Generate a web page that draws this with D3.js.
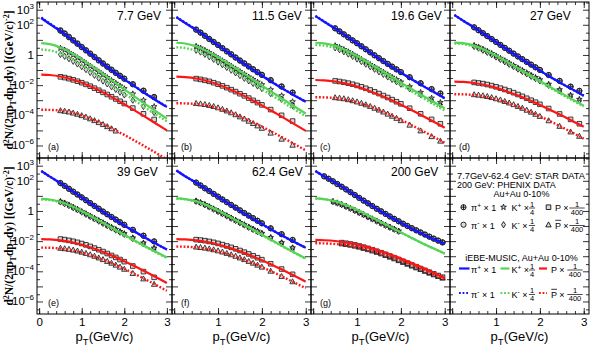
<!DOCTYPE html>
<html><head><meta charset="utf-8">
<script src="https://cdn.jsdelivr.net/npm/d3@7"></script>
<style>
body{margin:0;background:#fff}
svg{display:block}
text{font-family:"Liberation Sans",Arial,sans-serif;fill:#000}
</style>
</head><body>
<svg id="c" width="591" height="353"></svg>
<script>
// ---------------- DATA (log10 of d2N/(2pi pT dpT dy)) ----------------
const energies = ["7.7 GeV","11.5 GeV","19.6 GeV","27 GeV","39 GeV","62.4 GeV","200 GeV"];
const panelTags = ["(a)","(b)","(c)","(d)","(e)","(f)","(g)"];
const xTickValues = [0,1,2,3];
const yTickExponents = [3,2,0,-2,-4,-6];

const modelPt = [0.05,0.25,0.5,0.75,1.0,1.25,1.5,1.75,2.0,2.25,2.5,2.75,3.0];
const starPt = [0.5,0.6,0.7,0.8,0.9,1.0,1.1,1.2,1.3,1.4,1.5,1.6,1.7,1.8,1.9,2.0,2.2,2.45,2.7,2.9];
const phenixPt = [0.25,0.35,0.45,0.55,0.65,0.75,0.85,0.95,1.05,1.15,1.25,1.35,1.45,1.55,1.65,1.75,1.85,1.95,2.05,2.15,2.25,2.35,2.45,2.55,2.65,2.75,2.85,2.95];

// iEBE-MUSIC model curves (rows: 7.7, 11.5, 19.6, 27, 39, 62.4, 200 GeV)
const piPlusModel = [
 [2.45,2.05,1.58,1.05,0.5,-0.05,-0.6,-1.12,-1.62,-2.1,-2.57,-3.02,-3.45],
 [2.5,2.12,1.66,1.16,0.64,0.12,-0.4,-0.9,-1.38,-1.84,-2.28,-2.7,-3.1],
 [2.58,2.2,1.75,1.26,0.76,0.26,-0.24,-0.72,-1.18,-1.62,-2.05,-2.46,-2.88],
 [2.65,2.27,1.82,1.34,0.85,0.36,-0.12,-0.59,-1.04,-1.48,-1.9,-2.3,-2.7],
 [2.65,2.28,1.84,1.37,0.89,0.41,-0.06,-0.52,-0.96,-1.38,-1.79,-2.18,-2.56],
 [2.68,2.3,1.87,1.41,0.94,0.47,0.01,-0.44,-0.87,-1.29,-1.69,-2.07,-2.44],
 [2.65,2.29,1.88,1.43,0.96,0.5,0.05,-0.38,-0.79,-1.18,-1.55,-1.88,-2.18]];
const piMinusModel = [
 [2.48,2.08,1.61,1.08,0.53,-0.02,-0.57,-1.09,-1.6,-2.08,-2.55,-3.0,-3.43],
 [2.52,2.14,1.68,1.18,0.66,0.14,-0.38,-0.88,-1.36,-1.82,-2.27,-2.69,-3.09],
 [2.59,2.21,1.76,1.27,0.77,0.27,-0.23,-0.71,-1.17,-1.61,-2.04,-2.45,-2.87],
 [2.65,2.27,1.82,1.34,0.85,0.36,-0.12,-0.59,-1.04,-1.48,-1.9,-2.3,-2.7],
 [2.65,2.28,1.84,1.37,0.89,0.41,-0.06,-0.52,-0.96,-1.38,-1.79,-2.18,-2.56],
 [2.68,2.3,1.87,1.41,0.94,0.47,0.01,-0.44,-0.87,-1.29,-1.69,-2.07,-2.44],
 [2.65,2.29,1.88,1.43,0.96,0.5,0.05,-0.38,-0.79,-1.18,-1.55,-1.88,-2.18]];
const kPlusModel = [
 [0.78,0.72,0.5,0.15,-0.28,-0.76,-1.26,-1.77,-2.28,-2.78,-3.27,-3.75,-4.22],
 [0.81,0.76,0.57,0.25,-0.15,-0.6,-1.07,-1.55,-2.03,-2.5,-2.97,-3.43,-3.88],
 [0.81,0.77,0.6,0.3,-0.07,-0.49,-0.93,-1.38,-1.83,-2.27,-2.7,-3.12,-3.54],
 [0.82,0.78,0.62,0.33,-0.03,-0.44,-0.87,-1.3,-1.73,-2.15,-2.56,-2.96,-3.36],
 [0.8,0.76,0.61,0.34,0.0,-0.38,-0.78,-1.18,-1.58,-1.97,-2.35,-2.72,-3.08],
 [0.83,0.79,0.64,0.37,0.03,-0.36,-0.76,-1.17,-1.58,-1.98,-2.38,-2.77,-3.15],
 [0.83,0.79,0.65,0.4,0.08,-0.28,-0.66,-1.04,-1.42,-1.79,-2.15,-2.49,-2.82]];
const kMinusModel = [
 [0.36,0.3,0.1,-0.24,-0.66,-1.12,-1.6,-2.09,-2.57,-3.04,-3.5,-3.96,-4.4],
 [0.51,0.46,0.28,-0.03,-0.42,-0.86,-1.32,-1.79,-2.26,-2.72,-3.17,-3.62,-4.06],
 [0.66,0.62,0.45,0.15,-0.22,-0.64,-1.08,-1.53,-1.98,-2.42,-2.85,-3.27,-3.68],
 [0.76,0.72,0.56,0.27,-0.09,-0.5,-0.93,-1.36,-1.79,-2.21,-2.62,-3.02,-3.42],
 [0.76,0.72,0.57,0.3,-0.04,-0.42,-0.82,-1.22,-1.62,-2.01,-2.39,-2.76,-3.12],
 [0.81,0.77,0.62,0.35,0.01,-0.38,-0.78,-1.19,-1.6,-2.0,-2.4,-2.79,-3.17],
 [0.82,0.78,0.64,0.39,0.07,-0.29,-0.67,-1.05,-1.43,-1.8,-2.16,-2.5,-2.83]];
const pModel = [
 [-1.3,-1.33,-1.43,-1.6,-1.84,-2.14,-2.48,-2.86,-3.27,-3.69,-4.12,-4.56,-5.0],
 [-1.44,-1.47,-1.56,-1.73,-1.96,-2.25,-2.58,-2.95,-3.34,-3.75,-4.17,-4.6,-5.03],
 [-1.66,-1.68,-1.76,-1.9,-2.1,-2.35,-2.64,-2.96,-3.3,-3.66,-4.04,-4.43,-4.83],
 [-1.77,-1.79,-1.86,-1.99,-2.18,-2.42,-2.69,-2.99,-3.31,-3.66,-4.02,-4.39,-4.76],
 [-1.87,-1.89,-1.95,-2.07,-2.24,-2.46,-2.72,-3.01,-3.33,-3.67,-4.03,-4.4,-4.78],
 [-1.87,-1.89,-1.95,-2.06,-2.22,-2.43,-2.68,-2.96,-3.27,-3.6,-3.95,-4.31,-4.68],
 [-1.92,-1.94,-1.99,-2.08,-2.22,-2.4,-2.62,-2.87,-3.15,-3.45,-3.77,-4.1,-4.45]];
const pbarModel = [
 [-3.63,-3.64,-3.68,-3.8,-4.0,-4.27,-4.58,-4.93,-5.3,-5.69,-6.09,-6.5,-6.92],
 [-3.2,-3.21,-3.25,-3.36,-3.54,-3.78,-4.07,-4.4,-4.75,-5.13,-5.52,-5.92,-6.33],
 [-2.8,-2.81,-2.86,-2.97,-3.14,-3.37,-3.65,-3.96,-4.3,-4.66,-5.04,-5.43,-5.83],
 [-2.6,-2.61,-2.66,-2.77,-2.94,-3.16,-3.43,-3.73,-4.06,-4.41,-4.78,-5.16,-5.55],
 [-2.43,-2.44,-2.49,-2.6,-2.76,-2.97,-3.23,-3.52,-3.84,-4.18,-4.54,-4.91,-5.29],
 [-2.36,-2.37,-2.42,-2.52,-2.68,-2.88,-3.13,-3.41,-3.72,-4.05,-4.4,-4.76,-5.12],
 [-2.14,-2.15,-2.19,-2.27,-2.4,-2.57,-2.78,-3.02,-3.29,-3.58,-3.89,-4.2,-4.52]];

// Measured data (rows 0-5 on starPt, row 6 on phenixPt)
const piPlusData = [
 [1.6,1.4,1.17,0.95,0.73,0.51,0.29,0.07,-0.15,-0.37,-0.58,-0.79,-1.0,-1.2,-1.4,-1.58,-1.95,-2.38,-2.8,null],
 [1.67,1.47,1.26,1.05,0.85,0.65,0.44,0.23,0.03,-0.18,-0.38,-0.57,-0.77,-0.96,-1.15,-1.33,-1.68,-2.1,-2.5,null],
 [1.76,1.56,1.36,1.16,0.96,0.77,0.57,0.37,0.17,-0.03,-0.22,-0.41,-0.6,-0.78,-0.96,-1.14,-1.48,-1.88,-2.27,-2.56],
 [1.83,1.64,1.44,1.25,1.05,0.86,0.66,0.47,0.28,0.09,-0.1,-0.28,-0.46,-0.64,-0.82,-0.99,-1.33,-1.72,-2.1,-2.38],
 [1.85,1.66,1.47,1.28,1.09,0.9,0.71,0.52,0.33,0.15,-0.04,-0.22,-0.4,-0.57,-0.75,-0.92,-1.25,-1.64,-2.02,null],
 [1.88,1.69,1.5,1.32,1.13,0.95,0.76,0.58,0.4,0.22,0.04,-0.14,-0.31,-0.48,-0.65,-0.82,-1.15,-1.54,-1.92,null],
 [2.3,2.14,1.97,1.79,1.61,1.43,1.25,1.06,0.87,0.69,0.51,0.33,0.15,-0.02,-0.19,-0.36,-0.52,-0.68,-0.84,-0.99,-1.14,-1.28,-1.42,-1.56,-1.7,-1.83,-1.96,-2.08]];
const piMinusData = [
 [1.64,1.44,1.21,0.99,0.77,0.54,0.32,0.1,-0.12,-0.34,-0.55,-0.76,-0.97,-1.17,-1.37,-1.56,-1.93,-2.36,-2.78,null],
 [1.69,1.49,1.28,1.07,0.87,0.67,0.46,0.25,0.05,-0.16,-0.36,-0.55,-0.75,-0.94,-1.13,-1.31,-1.66,-2.08,-2.49,null],
 [1.77,1.57,1.37,1.17,0.97,0.78,0.58,0.38,0.18,-0.02,-0.21,-0.4,-0.59,-0.77,-0.95,-1.13,-1.47,-1.87,-2.26,-2.55],
 [1.83,1.64,1.45,1.25,1.06,0.86,0.67,0.47,0.28,0.09,-0.1,-0.28,-0.46,-0.64,-0.82,-0.99,-1.33,-1.72,-2.1,-2.38],
 [1.85,1.66,1.47,1.28,1.09,0.9,0.71,0.52,0.33,0.15,-0.04,-0.22,-0.4,-0.57,-0.75,-0.92,-1.25,-1.64,-2.02,null],
 [1.88,1.69,1.5,1.32,1.13,0.95,0.76,0.58,0.4,0.22,0.04,-0.14,-0.31,-0.48,-0.65,-0.82,-1.15,-1.54,-1.92,null],
 [2.29,2.13,1.96,1.78,1.6,1.42,1.24,1.05,0.86,0.68,0.5,0.32,0.14,-0.03,-0.2,-0.37,-0.53,-0.69,-0.85,-1.0,-1.15,-1.29,-1.43,-1.57,-1.71,-1.84,-1.97,-2.09]];
const kPlusData = [
 [0.45,0.33,0.17,0.0,-0.18,-0.36,-0.55,-0.74,-0.93,-1.12,-1.31,-1.5,-1.69,-1.87,-2.05,-2.23,-2.58,-3.0,-3.42,null],
 [0.58,0.46,0.31,0.15,-0.02,-0.2,-0.38,-0.56,-0.74,-0.92,-1.1,-1.28,-1.46,-1.63,-1.8,-1.97,-2.3,-2.7,-3.1,null],
 [0.62,0.5,0.36,0.21,0.05,-0.12,-0.29,-0.46,-0.63,-0.8,-0.97,-1.14,-1.31,-1.47,-1.63,-1.79,-2.1,-2.48,-2.86,-3.15],
 [0.64,0.53,0.39,0.25,0.1,-0.06,-0.22,-0.38,-0.54,-0.7,-0.86,-1.02,-1.18,-1.34,-1.49,-1.64,-1.94,-2.3,-2.66,-2.94],
 [0.64,0.53,0.4,0.26,0.12,-0.03,-0.18,-0.33,-0.48,-0.63,-0.78,-0.93,-1.08,-1.22,-1.36,-1.5,-1.78,-2.12,-2.46,null],
 [0.67,0.56,0.43,0.29,0.14,-0.01,-0.16,-0.31,-0.46,-0.61,-0.76,-0.91,-1.06,-1.2,-1.34,-1.48,-1.76,-2.1,-2.44,null],
 [null,null,0.63,0.54,0.43,0.31,0.18,0.04,-0.1,-0.24,-0.38,-0.52,-0.66,-0.8,-0.94,-1.07,-1.2,-1.33,null,null,null,null,null,null,null,null,null,null]];
const kMinusData = [
 [0.03,-0.09,-0.25,-0.42,-0.6,-0.78,-0.97,-1.16,-1.35,-1.54,-1.73,-1.92,-2.11,-2.29,-2.47,-2.65,-3.0,-3.42,-3.82,null],
 [0.31,0.19,0.04,-0.12,-0.29,-0.47,-0.65,-0.83,-1.01,-1.19,-1.37,-1.55,-1.72,-1.89,-2.06,-2.23,-2.56,-2.95,-3.35,null],
 [0.47,0.35,0.21,0.06,-0.1,-0.27,-0.44,-0.61,-0.78,-0.95,-1.12,-1.29,-1.46,-1.62,-1.78,-1.94,-2.25,-2.63,-3.01,-3.3],
 [0.56,0.45,0.31,0.17,0.02,-0.14,-0.3,-0.46,-0.62,-0.78,-0.94,-1.1,-1.26,-1.42,-1.57,-1.72,-2.02,-2.38,-2.74,-3.02],
 [0.59,0.48,0.35,0.21,0.07,-0.08,-0.23,-0.38,-0.53,-0.68,-0.83,-0.98,-1.13,-1.27,-1.41,-1.55,-1.83,-2.17,-2.51,null],
 [0.64,0.53,0.4,0.26,0.11,-0.04,-0.19,-0.34,-0.49,-0.64,-0.79,-0.94,-1.09,-1.23,-1.37,-1.51,-1.79,-2.13,-2.47,null],
 [null,null,0.61,0.52,0.41,0.29,0.16,0.02,-0.12,-0.26,-0.4,-0.54,-0.68,-0.82,-0.96,-1.09,-1.22,-1.35,null,null,null,null,null,null,null,null,null,null]];
const pData = [
 [-1.45,-1.5,-1.57,-1.65,-1.74,-1.84,-1.95,-2.07,-2.2,-2.34,-2.48,-2.62,-2.77,-2.92,-3.07,-3.22,-3.52,-3.9,-4.28,null],
 [-1.57,-1.62,-1.68,-1.75,-1.84,-1.94,-2.05,-2.17,-2.3,-2.43,-2.57,-2.71,-2.86,-3.01,-3.16,-3.31,-3.62,-4.0,-4.38,null],
 [-1.72,-1.76,-1.81,-1.87,-1.94,-2.02,-2.11,-2.21,-2.32,-2.44,-2.56,-2.69,-2.82,-2.96,-3.1,-3.24,-3.53,-3.9,-4.27,-4.56],
 [-1.82,-1.86,-1.9,-1.96,-2.03,-2.11,-2.2,-2.29,-2.39,-2.5,-2.62,-2.74,-2.87,-3.0,-3.13,-3.27,-3.55,-3.91,-4.27,-4.56],
 [-1.86,-1.9,-1.95,-2.01,-2.08,-2.16,-2.25,-2.35,-2.46,-2.57,-2.69,-2.82,-2.95,-3.08,-3.22,-3.36,-3.65,-4.02,-4.4,null],
 [-1.9,-1.93,-1.97,-2.02,-2.08,-2.15,-2.23,-2.32,-2.41,-2.51,-2.62,-2.73,-2.85,-2.97,-3.1,-3.23,-3.5,-3.85,-4.2,null],
 [null,null,null,null,-2.1,-2.14,-2.19,-2.25,-2.32,-2.4,-2.48,-2.57,-2.67,-2.77,-2.88,-2.99,-3.1,-3.22,-3.34,-3.46,-3.58,-3.7,-3.82,-3.94,-4.06,-4.17,-4.28,-4.39]];
const pbarData = [
 [-3.68,-3.72,-3.77,-3.84,-3.92,-4.01,-4.11,-4.22,-4.34,-4.47,-4.6,-4.74,-4.88,-5.03,null,null,null,null,null,null],
 [-3.2,-3.23,-3.27,-3.33,-3.4,-3.49,-3.59,-3.7,-3.82,-3.95,-4.09,-4.23,-4.38,-4.53,-4.69,-4.85,-5.17,-5.57,-5.97,null],
 [-2.82,-2.85,-2.89,-2.95,-3.02,-3.1,-3.19,-3.29,-3.4,-3.52,-3.64,-3.77,-3.91,-4.05,-4.19,-4.34,-4.64,-5.02,-5.4,-5.7],
 [-2.62,-2.65,-2.69,-2.74,-2.81,-2.89,-2.97,-3.07,-3.17,-3.28,-3.4,-3.52,-3.65,-3.78,-3.92,-4.06,-4.35,-4.72,-5.09,-5.38],
 [-2.46,-2.49,-2.53,-2.58,-2.64,-2.72,-2.8,-2.89,-2.99,-3.1,-3.21,-3.33,-3.45,-3.58,-3.71,-3.85,-4.13,-4.49,-4.85,null],
 [-2.38,-2.41,-2.45,-2.5,-2.56,-2.63,-2.71,-2.8,-2.89,-2.99,-3.1,-3.21,-3.33,-3.45,-3.58,-3.71,-3.98,-4.33,-4.68,null],
 [null,null,null,null,-2.17,-2.21,-2.26,-2.32,-2.39,-2.47,-2.55,-2.64,-2.73,-2.83,-2.94,-3.05,-3.16,-3.28,-3.4,-3.52,-3.64,-3.76,-3.87,-3.99,-4.11,-4.22,-4.33,-4.44]];

// ---------------- LAYOUT ----------------
const colX = [37,172,311,450,589];
const rowY = [2,158,314];
const xDomain = [-0.05,3.12];
const yDomain = [Math.pow(10,-6.83), Math.pow(10,3.51)];
const COL = {blue:"#1414ff", green:"#55d455", red:"#ff1414"};

const svg = d3.select("#c");
svg.append("rect").attr("width",591).attr("height",353).attr("fill","#fff");

const markerPath = {
  piPlus: "M-2.6,0A2.6,2.6 0 1,0 2.6,0A2.6,2.6 0 1,0 -2.6,0M-2.6,0H2.6M0,-2.6V2.6",
  piMinus: "M-2.6,0A2.6,2.6 0 1,0 2.6,0A2.6,2.6 0 1,0 -2.6,0",
  kPlus: (function(){let p=[];for(let i=0;i<10;i++){const r=i%2?1.2:3.0;const a=-Math.PI/2+i*Math.PI/5;p.push([r*Math.cos(a),r*Math.sin(a)]);}return "M"+p.map(d=>d[0].toFixed(2)+","+d[1].toFixed(2)).join("L")+"Z";})(),
  kMinus: "M0,-3.1L2.0,0L0,3.1L-2.0,0Z",
  p: "M-2.3,-2.3H2.3V2.3H-2.3Z",
  pbar: "M0,-2.8L2.7,2.2H-2.7Z"
};

function drawPanel(i){
  const c = i%4, r = Math.floor(i/4);
  const x = d3.scaleLinear().domain(xDomain).range([colX[c], colX[c+1]]);
  const y = d3.scaleLog().domain(yDomain).range([rowY[r+1], rowY[r]]);
  const g = svg.append("g");
  const clipId = "clip"+i;
  svg.append("clipPath").attr("id",clipId).append("rect")
    .attr("x",colX[c]).attr("y",rowY[r]).attr("width",colX[c+1]-colX[c]).attr("height",rowY[r+1]-rowY[r]);

  const xMinor = d3.range(0,3.01,0.2);
  g.append("g").attr("transform",`translate(0,${rowY[r+1]})`)
    .call(d3.axisBottom(x).tickValues(xMinor).tickSizeInner(-3).tickSizeOuter(0).tickFormat(""));
  const xAx = g.append("g").attr("transform",`translate(0,${rowY[r+1]})`)
    .call(d3.axisBottom(x).tickValues(xTickValues).tickSizeInner(-6).tickSizeOuter(0).tickPadding(4)
      .tickFormat(d=> (r===1 && (c===0 || d!==0)) ? d : ""));
  xAx.selectAll("text").attr("font-size",11.5).attr("font-family","Liberation Sans, Arial, sans-serif");
  g.append("g").attr("transform",`translate(0,${rowY[r]})`)
    .call(d3.axisTop(x).tickValues(xMinor).tickSizeInner(-3).tickSizeOuter(0).tickFormat(""));
  g.append("g").attr("transform",`translate(0,${rowY[r]})`)
    .call(d3.axisTop(x).tickValues(xTickValues).tickSizeInner(-6).tickSizeOuter(0).tickFormat(""));

  const yMajor = d3.range(-6,4).map(e=>Math.pow(10,e));
  const yMinor = d3.range(-7,4).map(e=>3*Math.pow(10,e)).filter(v=>v>yDomain[0] && v<yDomain[1]);
  const yLab = yTickExponents.map(e=>Math.pow(10,e));
  g.append("g").attr("transform",`translate(${colX[c]},0)`)
    .call(d3.axisLeft(y).tickValues(yMajor).tickSizeInner(-6).tickSizeOuter(0).tickFormat(""));
  g.append("g").attr("transform",`translate(${colX[c]},0)`)
    .call(d3.axisLeft(y).tickValues(yMinor).tickSizeInner(-3).tickSizeOuter(0).tickFormat(""));
  g.append("g").attr("transform",`translate(${colX[c+1]},0)`)
    .call(d3.axisRight(y).tickValues(yMajor).tickSizeInner(-6).tickSizeOuter(0).tickFormat(""));
  g.append("g").attr("transform",`translate(${colX[c+1]},0)`)
    .call(d3.axisRight(y).tickValues(yMinor).tickSizeInner(-3).tickSizeOuter(0).tickFormat(""));
  g.selectAll(".domain").remove();
  g.selectAll(".tick line").attr("stroke","#000").attr("stroke-width",0.8);

  if(c===0){
    yLab.forEach((v,k)=>{
      const e = yTickExponents[k];
      const t = g.append("text").attr("x",colX[0]-3).attr("y",y(v)+4).attr("text-anchor","end").attr("font-size",11.5);
      if(e===0){ t.text("1"); }
      else { t.append("tspan").text("10"); t.append("tspan").attr("dy",-5).attr("font-size",8).text(String(e).replace("-","\u2212")); }
    });
  }

  g.append("rect").attr("x",colX[c]).attr("y",rowY[r]).attr("width",colX[c+1]-colX[c]).attr("height",rowY[r+1]-rowY[r])
    .attr("fill","none").attr("stroke","#000").attr("stroke-width",1);

  if(i>6) return;

  const plot = g.append("g").attr("clip-path",`url(#${clipId})`);
  const pts = i===6 ? phenixPt : starPt;
  const series = [
    ["piMinus", piMinusData], ["piPlus", piPlusData], ["kMinus", kMinusData], ["kPlus", kPlusData],
    ["pbar", pbarData], ["p", pData]];
  series.forEach(([name,arr])=>{
    const vals = arr[i].map((v,k)=>[pts[k],v]).filter(d=>d[1]!==null);
    plot.selectAll(null).data(vals).enter().append("path")
      .attr("d",markerPath[name])
      .attr("transform",d=>`translate(${x(d[0])},${y(Math.pow(10,d[1]))})`)
      .attr("fill","rgba(150,150,150,0.35)").attr("stroke","#111").attr("stroke-width",0.8);
  });

  const line = d3.line().x(d=>x(d[0])).y(d=>y(Math.pow(10,d[1]))).curve(d3.curveMonotoneX);
  const curves = [
    [piPlusModel, COL.blue, false],[kPlusModel, COL.green, false],[pModel, COL.red, false],
    [piMinusModel, COL.blue, true],[kMinusModel, COL.green, true],[pbarModel, COL.red, true]];
  curves.forEach(([arr,col,dot])=>{
    plot.append("path").datum(arr[i].map((v,k)=>[modelPt[k],v]))
      .attr("d",line).attr("fill","none").attr("stroke",col)
      .attr("stroke-width",dot?2.4:2.2).attr("stroke-dasharray",dot?"1.8,1.8":null);
  });

  g.append("text").attr("x",colX[c]+80).attr("y",rowY[r]+18).attr("font-size",12).text(energies[i]);
  g.append("text").attr("x",colX[c]+ (c===0?11:9)).attr("y",rowY[r+1]-8).attr("font-size",9).text(panelTags[i]);
}
for(let i=0;i<8;i++) drawPanel(i);

// axis titles
[0,1,2,3].forEach(c=>{
  const t = svg.append("text").attr("x",(colX[c]+colX[c+1])/2).attr("y",341).attr("text-anchor","middle").attr("font-size",13);
  t.append("tspan").text("p");
  t.append("tspan").attr("dy",4).attr("font-size",9.5).text("T");
  t.append("tspan").attr("dy",-4).text("(GeV/c)");
});
[0,1].forEach(r=>{
  const cy = (rowY[r]+rowY[r+1])/2;
  const t = svg.append("text").attr("transform",`translate(13,${cy}) rotate(-90)`)
    .attr("text-anchor","middle").attr("font-size",11.5).attr("font-weight","bold")
    .style("font-family","Liberation Serif, Times New Roman, serif");
  t.append("tspan").text("d");
  t.append("tspan").attr("dy",-4).attr("font-size",8).text("2");
  t.append("tspan").attr("dy",4).text("N/(2\u03C0p");
  t.append("tspan").attr("dy",3).attr("font-size",8).text("T");
  t.append("tspan").attr("dy",-3).text("dp");
  t.append("tspan").attr("dy",3).attr("font-size",8).text("T");
  t.append("tspan").attr("dy",-3).text("dy) [(GeV/c)");
  t.append("tspan").attr("dy",-4).attr("font-size",8).text("-2");
  t.append("tspan").attr("dy",4).text("]");
});

// ---------------- LEGEND ----------------
const L = svg.append("g");
const fs = 9;
L.append("text").attr("x",457).attr("y",178.5).attr("font-size",fs).attr("textLength",128).attr("lengthAdjust","spacingAndGlyphs").text("7.7GeV-62.4 GeV: STAR DATA");
L.append("text").attr("x",457).attr("y",188).attr("font-size",fs).text("200 GeV: PHENIX DATA");
L.append("text").attr("x",521.5).attr("y",197).attr("font-size",fs).attr("text-anchor","middle").text("Au+Au 0-10%");
L.append("text").attr("x",521.5).attr("y",260.5).attr("font-size",fs).attr("text-anchor","middle").text("iEBE-MUSIC, Au+Au 0-10%");

function frac(xc, yc, num, den){
  L.append("text").attr("x",xc).attr("y",yc-1.1).attr("text-anchor","middle").attr("font-size",7.5).text(num);
  const hw = den.length*2.3+0.8;
  L.append("line").attr("x1",xc-hw).attr("x2",xc+hw).attr("y1",yc).attr("y2",yc).attr("stroke","#000").attr("stroke-width",0.7);
  L.append("text").attr("x",xc).attr("y",yc+6.8).attr("text-anchor","middle").attr("font-size",7.5).text(den);
}
function label(x0, yc, base, sup, mult, bar){
  const t = L.append("text").attr("x",x0).attr("y",yc+3.2).attr("font-size",fs);
  t.append("tspan").text(base);
  if(sup){ t.append("tspan").attr("dy",-3.5).attr("font-size",6.5).text(sup); t.append("tspan").attr("dy",3.5).text(" \u00D7"+(mult?" "+mult:"")); }
  else t.append("tspan").text(" \u00D7"+(mult?" "+mult:""));
  if(bar) L.append("line").attr("x1",x0+0.3).attr("x2",x0+6).attr("y1",yc-5.2).attr("y2",yc-5.2).attr("stroke","#000").attr("stroke-width",0.8);
}
const rowsM = [208, 225.5];
[["piPlus","kPlus","p","+",false],["piMinus","kMinus","pbar","-",true]].forEach((rw,k)=>{
  const yc = rowsM[k];
  [[rw[0],463.5],[rw[1],503.5],[rw[2],548.5]].forEach(([m,xx])=>{
    L.append("path").attr("d",markerPath[m]).attr("transform",`translate(${xx},${yc-0.8})`)
      .attr("fill","rgba(150,150,150,0.35)").attr("stroke","#111").attr("stroke-width",0.9);
  });
  label(471, yc, "\u03C0", rw[3], "1", false);
  label(511.5, yc, "K", rw[3], "", false);
  frac(532, yc, "1", "4");
  label(555, yc, "P", null, "", rw[4]);
  frac(577, yc, "1", "400");
});
const rowsL = [270, 294.5];
[[false,"+"],[true,"-"]].forEach(([dot,s],k)=>{
  const yc = rowsL[k];
  [[COL.blue,459,469.5],[COL.green,500.5,509.5],[COL.red,539,547]].forEach(([col,a,b])=>{
    L.append("line").attr("x1",a).attr("x2",b).attr("y1",yc-1.5).attr("y2",yc-1.5).attr("stroke",col)
      .attr("stroke-width",2.2).attr("stroke-dasharray",dot?"1.8,1.8":null);
  });
  label(471, yc, "\u03C0", s, "1", false);
  label(511.5, yc, "K", s, "", false);
  frac(532, yc, "1", "4");
  label(551, yc, "P", null, "", dot);
  frac(575, yc, "1", "400");
});
</script>
</body></html>
